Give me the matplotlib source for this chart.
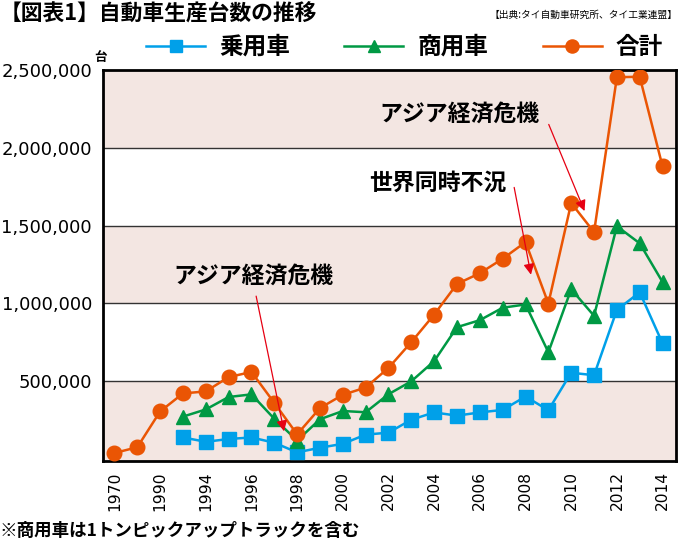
import numpy as np
import matplotlib
matplotlib.use('Agg')
from matplotlib import pyplot as plt

# data (units: vehicles)
years = ['1970', '1980', '1990', '1993', '1994', '1995', '1996', '1997', '1998', '1999',
         '2000', '2001', '2002', '2003', '2004', '2005', '2006', '2007', '2008', '2009',
         '2010', '2011', '2012', '2013', '2014']
total = [38000, 75000, 305000, 421000, 434000, 526000, 559000, 360000, 158000, 327000,
         412000, 459000, 585000, 751000, 928000, 1125000, 1194000, 1287000, 1394000, 999000,
         1645000, 1458000, 2454000, 2457000, 1880000]
passenger = [138000, 110000, 128000, 138000, 104000, 42000, 72000,
             97000, 156000, 169000, 252000, 299000, 278000, 299000, 315000, 401000, 313000,
             554000, 538000, 958000, 1071000, 743000]
commercial = [272000, 318000, 398000, 415000, 258000, 118000, 255000,
              308000, 300000, 416000, 499000, 629000, 847000, 892000, 972000, 993000, 686000,
              1091000, 920000, 1496000, 1386000, 1137000]
tick_years = years[::2]

jp = ['Noto Sans CJK JP', 'DejaVu Sans']
plt.rcParams['font.family'] = ['DejaVu Sans']

c_pass = '#00A0E9'
c_comm = '#009944'
c_total = '#EA5504'
c_arrow = '#E60012'

fig = plt.figure(figsize=(6.8, 5.41), dpi=100)
ax = fig.add_axes([0.1515, 0.148, 0.843, 0.7225])

x = np.arange(len(years))
x_sub = x[3:]

# alternating bands
for lo in (0, 1000000, 2000000):
    ax.axhspan(lo - 20000 if lo == 0 else lo, lo + 500000, color='#F3E6E2', zorder=0, lw=0)
for yv in (500000, 1000000, 1500000, 2000000):
    ax.axhline(yv, color='#333333', lw=1.0, zorder=1)

ax.plot(x_sub, passenger, color=c_pass, marker='s', markersize=10, lw=1.8, label='乗用車', zorder=3)
ax.plot(x_sub, commercial, color=c_comm, marker='^', markersize=10, lw=1.8, label='商用車', zorder=3)
ax.plot(x, total, color=c_total, marker='o', markersize=10.5, lw=1.8, label='合計', zorder=4)

ax.set_xlim(-0.5, 24.6)
ax.set_ylim(-13000, 2500000)
ax.set_yticks([500000, 1000000, 1500000, 2000000, 2500000])
ax.set_yticklabels(['500,000', '1,000,000', '1,500,000', '2,000,000', '2,500,000'])
ax.set_xticks(x[::2])
ax.set_xticklabels(tick_years, rotation=90)
ax.tick_params(axis='y', length=0, pad=8, labelsize=13)
ax.tick_params(axis='x', length=0, pad=7.5, labelsize=11.2)
for s in ax.spines.values():
    s.set_linewidth(2)
    s.set_color('black')

# annotations
arw = dict(arrowstyle='-|>', color=c_arrow, lw=0.9, mutation_scale=16)
ax.annotate('', xy=(7.45, 160000), xytext=(6.18, 1064000), arrowprops=arw, zorder=5)
ax.text(6.1, 1175000, 'アジア経済危機', family=jp, fontsize=16.5, weight='bold', ha='center', va='center')
ax.annotate('', xy=(18.26, 1167000), xytext=(17.48, 1763000), arrowprops=arw, zorder=5)
ax.text(14.15, 1769000, '世界同時不況', family=jp, fontsize=16.5, weight='bold', ha='center', va='center')
ax.annotate('', xy=(20.63, 1577000), xytext=(18.97, 2167000), arrowprops=arw, zorder=5)
ax.text(15.1, 2218000, 'アジア経済危機', family=jp, fontsize=16.5, weight='bold', ha='center', va='center')

fig.legend(loc='center', bbox_to_anchor=(0.595, 1 - 47 / 541), ncol=3, frameon=False,
           prop={'family': jp, 'size': 17, 'weight': 'bold'},
           handlelength=2.5, handletextpad=0.6, columnspacing=2.3, markerscale=0.9)

fig.text(0.0, 1 - 14 / 541, '【図表1】自動車生産台数の推移', family=jp, fontsize=15.7, weight='bold', va='center')
fig.text(0.997, 1 - 15 / 541, '【出典:タイ自動車研究所、タイ工業連盟】', family=jp, fontsize=7, ha='right', va='center')
fig.text(94 / 680, 1 - 58 / 541, '台', family=jp, fontsize=9, weight='bold', va='center')
fig.text(0.0, 1 - 531 / 541, '※商用車は1トンピックアップトラックを含む', family=jp, fontsize=12.6, weight='bold', va='center')

plt.savefig('out.png', dpi=100)
